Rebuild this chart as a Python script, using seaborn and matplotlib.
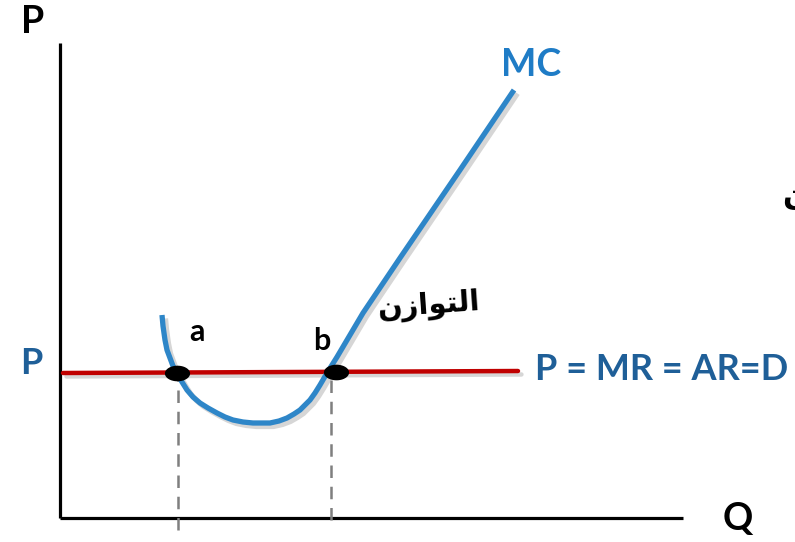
import matplotlib
matplotlib.use("Agg")
import matplotlib.pyplot as plt
import matplotlib.patheffects as pe
from matplotlib.path import Path
import numpy as np
import pandas as pd
import seaborn as sns

# ---- data (schematic units: Q to the right, P upward, origin at axes corner) ----
mc_q = [102, 103, 105, 107, 110, 113, 117, 122, 127, 133, 140, 148, 157, 165, 173, 183, 193, 202, 210,
        219, 227, 234, 240, 245, 250, 255, 260, 267, 277, 290, 303, 340, 400, 454]
mc_p = [203, 192, 178, 168, 160, 152, 145, 136, 128, 121, 115, 110, 105, 101, 98, 96, 95, 95, 95,
        97, 100, 104, 108, 113, 118, 125, 133, 145, 161, 183, 205, 260, 348, 428]
price_q = [3, 458]
price_p = [145, 147]
eq_labels = ["a", "b"]
eq_q = [117, 276]
eq_p = [145, 146]
drop_q = [118, 271]
drop_bottom = [-12, -2]

sns.set_theme(style="white")
plt.rcParams['font.family'] = ['Lato', 'DejaVu Sans']

W, H = 795, 542
X0, Y0 = 60, 518  # pixel location of origin
fig = plt.figure(figsize=(W / 100, H / 100), dpi=100)
ax = fig.add_axes([0, 0, 1, 1])
ax.set_xlim(-X0, W - X0)
ax.set_ylim(Y0 - H, Y0)
ax.axis("off")

def px(x, y):
    return x - X0, Y0 - y

shadow = [pe.SimpleLineShadow(offset=(2.5, -2.5), shadow_color="#999999", alpha=0.4), pe.Normal()]

# axes
ax.plot([0, 0], [0, Y0 - 43], color="black", lw=2.3, solid_capstyle="butt")
ax.plot([0, 683 - X0], [0, 0], color="black", lw=2.3, solid_capstyle="butt")

# dashed drop lines
for q, pb, pt in zip(drop_q, drop_bottom, eq_p):
    ax.plot([q, q], [pb, pt], color="#7f7f7f", lw=1.8, dashes=(5, 3.5))

# price line
df_p = pd.DataFrame({"Q": price_q, "P": price_p})
sns.lineplot(data=df_p, x="Q", y="P", ax=ax, color="#C00000", lw=3.2, sort=False, estimator=None)
ax.lines[-1].set_path_effects(shadow)

# MC curve
df_mc = pd.DataFrame({"Q": mc_q, "P": mc_p})
sns.lineplot(data=df_mc, x="Q", y="P", ax=ax, color="#2E86C8", lw=3.8, sort=False, estimator=None)
ax.lines[-1].set_path_effects(shadow)
ax.lines[-1].set_solid_capstyle("butt")
ax.lines[-1].set_solid_joinstyle("round")

# equilibrium dots (ellipse markers)
t = np.linspace(0, 2 * np.pi, 40)
ell = Path(np.column_stack([np.cos(t), 0.62 * np.sin(t)]))
df_eq = pd.DataFrame({"Q": eq_q, "P": eq_p, "lab": eq_labels})
sns.scatterplot(data=df_eq, x="Q", y="P", ax=ax, marker=ell, s=330, color="black",
                edgecolor="black", linewidth=0, zorder=5)
ax.set_xlabel("")
ax.set_ylabel("")

# text labels
def label(x, y, s, color="black", size=26, **kw):
    q, p = px(x, y)
    ax.text(q, p, s, color=color, fontsize=size, fontweight="bold", ha="center", va="center", **kw)

label(33, 22, "P", size=27)
label(738, 519, "Q", size=27)
label(531, 65, "MC", color="#1F7CC6", size=27)
label(31, 364, "P", color="#1F5F98", size=26)
q, p = px(535, 369)
ax.text(q, p, "P = MR = AR=D", color="#1F5F98", fontsize=26, fontweight="bold", ha="left", va="center")
label(197, 332, "a", size=22)
label(322, 341, "b", size=22)

# Arabic label (presentation forms in visual order)
arabic = "\uFEE5\uFEAF\uFE8D\uFEEE\uFE98\uFEDF\uFE8D"
q, p = px(428, 306)
ax.text(q, p, arabic, color="black", fontsize=21, ha="center", va="center",
        family=["DejaVu Sans"], fontweight="bold", rotation=4)
q, p = px(782, 196)
ax.text(q, p, "\uFEE5", color="black", fontsize=22, ha="left", va="center", family=["DejaVu Sans"], fontweight="bold")

fig.savefig("out.png", dpi=100)
